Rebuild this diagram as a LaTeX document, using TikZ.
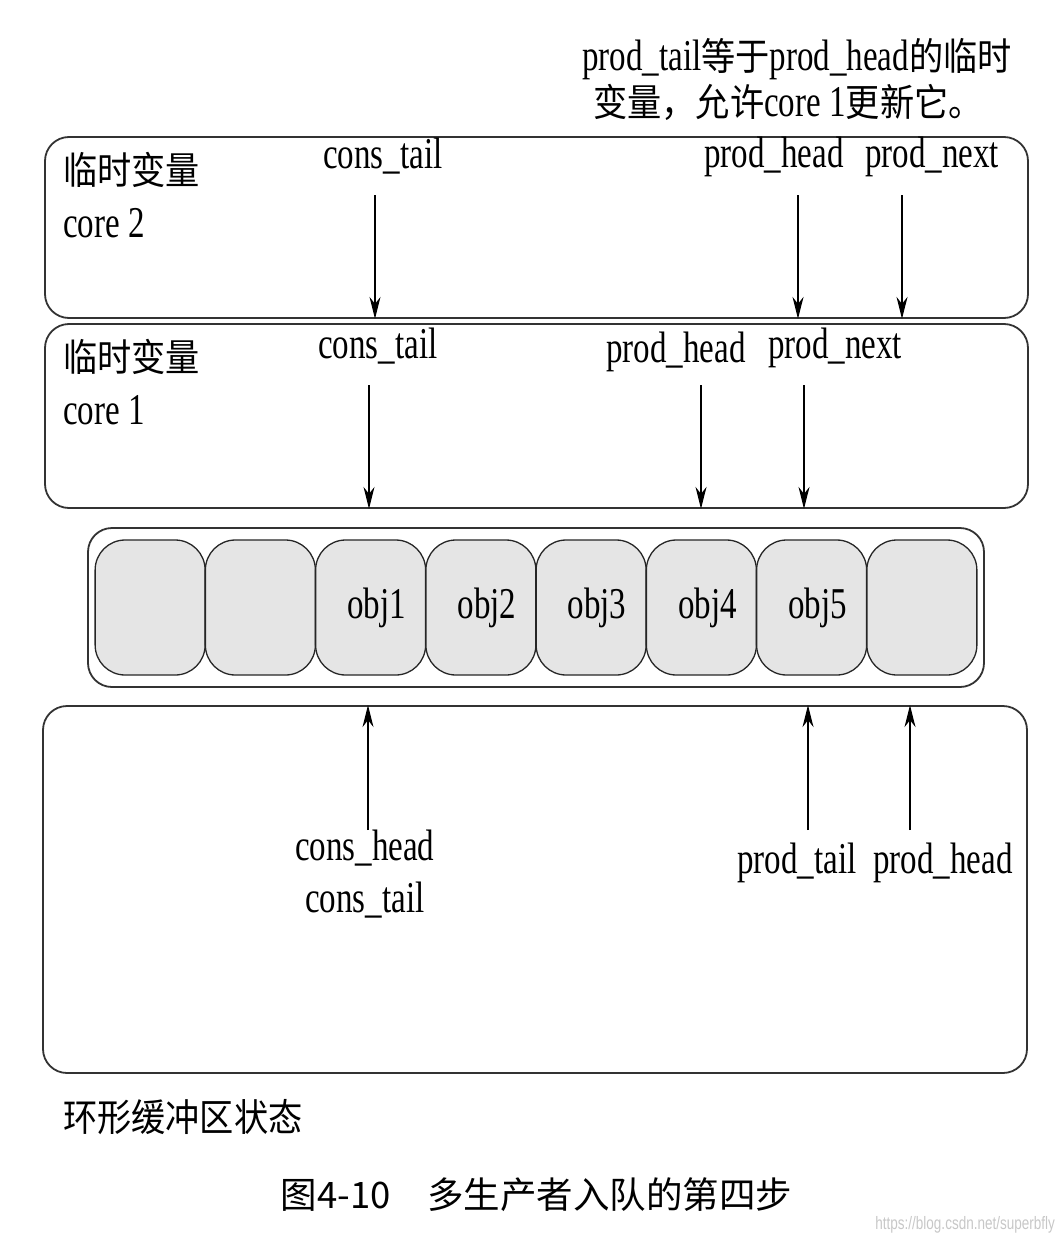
\documentclass[tikz,border=0pt]{standalone}
\usepackage{fontspec}
\setmainfont{Liberation Serif}[FakeStretch=0.75]
\newfontfamily\cjk{Noto Sans CJK SC}[FakeStretch=0.9]
\newfontfamily\capfont{Noto Sans CJK SC}
\newfontfamily\wmfont{Liberation Sans}[FakeStretch=0.75]
\usetikzlibrary{arrows.meta,positioning}

\newcommand{\zhtxt}[1]{{\cjk\fontsize{38}{42}\selectfont #1}}

\tikzset{
  varbox/.style={draw=black!80, line width=1.8pt, rounded corners=24pt, inner sep=0pt},
  cell/.style={draw=black!85, line width=1.3pt, fill=black!10, rounded corners=30pt,
    minimum width=110pt, minimum height=135pt, inner sep=0pt,
    font=\fontsize{44}{48}\selectfont},
  lbl/.style={font=\fontsize{44}{48}\selectfont, inner sep=0pt, anchor=base west},
  zh/.style={font=\cjk\fontsize{38}{44}\selectfont, inner sep=0pt, anchor=west},
  ptr/.style={-{Stealth[length=22pt,width=11pt,inset=7pt]}, line width=1.3pt},
}

\begin{document}
\begin{tikzpicture}[x=1pt,y=-1pt]
      \useasboundingbox (0,0) rectangle (1064,1244);

      % note over the top box
      \node[lbl, anchor=base] (note1) at (797,71)
        {prod\_tail\zhtxt{等于}prod\_head\zhtxt{的临时}};
      \node[lbl, anchor=base] (note2) at (788,117)
        {\zhtxt{变量，允许}core 1\zhtxt{更新它。}};

      % core 2
      \node[varbox, minimum width=983pt, minimum height=181pt] (core2) at (536.5,227.5) {};
      \node[zh] (c2name) at (63,170) {临时变量};
      \node[lbl] (c2core) at (63,237) {core 2};
      \node[lbl] (c2tail) at (323,168) {cons\_tail};
      \node[lbl] (c2head) at (704,167) {prod\_head};
      \node[lbl] (c2next) at (865,167) {prod\_next};
      \coordinate (a1) at (375,195);
      \coordinate (a2) at (798,195);
      \coordinate (a3) at (902,195);
      \draw[ptr] (a1) -- (a1 |- core2.south);
      \draw[ptr] (a2) -- (a2 |- core2.south);
      \draw[ptr] (a3) -- (a3 |- core2.south);

      % core 1
      \node[varbox, minimum width=983pt, minimum height=184pt] (core1) at (536.5,416) {};
      \node[zh] (c1name) at (63,357) {临时变量};
      \node[lbl] (c1core) at (63,424) {core 1};
      \node[lbl] (c1tail) at (318,358) {cons\_tail};
      \node[lbl] (c1head) at (606,362) {prod\_head};
      \node[lbl] (c1next) at (768,358) {prod\_next};
      \coordinate (b1) at (369,385);
      \coordinate (b2) at (701,385);
      \coordinate (b3) at (804,385);
      \draw[ptr] (b1) -- (b1 |- core1.south);
      \draw[ptr] (b2) -- (b2 |- core1.south);
      \draw[ptr] (b3) -- (b3 |- core1.south);

      % ring
      \node[varbox, minimum width=896pt, minimum height=159pt] (ring) at (536,607.5) {};
      \foreach \i/\t in {1/,2/,3/obj1,4/obj2,5/obj3,6/obj4,7/obj5,8/}
        \node[cell] (cell\i) at ({150.125+(\i-1)*110.25},607.5) {\hspace*{12pt}\t};

      % ring state
      \node[varbox, minimum width=984pt, minimum height=367pt] (state) at (535,889.5) {};
      \node[lbl] (shead) at (295,860) {cons\_head};
      \node[lbl] (stail) at (305,912) {cons\_tail};
      \node[lbl] (sptail) at (737,873) {prod\_tail};
      \node[lbl] (sphead) at (873,873) {prod\_head};
      \coordinate (d1) at (368,830);
      \coordinate (d2) at (808,830);
      \coordinate (d3) at (910,830);
      \draw[ptr] (d1) -- (d1 |- state.north);
      \draw[ptr] (d2) -- (d2 |- state.north);
      \draw[ptr] (d3) -- (d3 |- state.north);

      \node[zh] (statename) at (63,1117) {环形缓冲区状态};

      % caption
      \node[font=\capfont\fontsize{36.5}{40}\selectfont, inner sep=0pt] (caption) at (536.5,1195)
        {图4-10　多生产者入队的第四步};
      \node[font=\wmfont\fontsize{18}{20}\selectfont, text=black!22, inner sep=0pt, anchor=east]
        (mark) at (1055,1225) {https://blog.csdn.net/superbfly};
\end{tikzpicture}
\end{document}
